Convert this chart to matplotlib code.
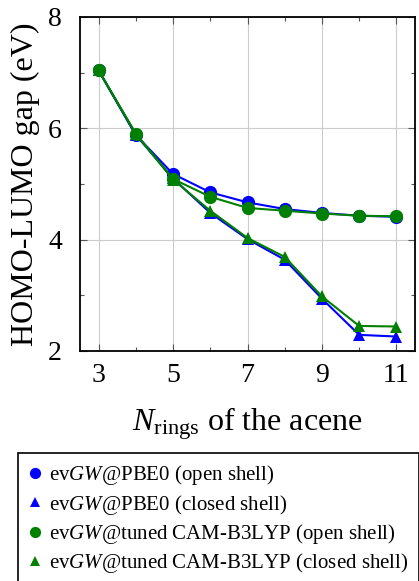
"""HOMO-LUMO gap of acenes vs number of rings, evGW on two starting points."""
import matplotlib

matplotlib.use("Agg")

import matplotlib.pyplot as plt
from matplotlib.lines import Line2D

plt.rcParams["font.family"] = "Liberation Serif"
plt.rcParams["mathtext.fontset"] = "custom"
plt.rcParams["mathtext.rm"] = "Liberation Serif"
plt.rcParams["mathtext.it"] = "Liberation Serif:italic"

n_rings = [3, 4, 5, 6, 7, 8, 9, 10, 11]

pbe0_open = [7.04, 5.88, 5.18, 4.85, 4.67, 4.55, 4.48, 4.43, 4.41]
pbe0_closed = [7.04, 5.88, 5.10, 4.48, 4.01, 3.64, 2.94, 2.29, 2.26]
cam_open = [7.04, 5.90, 5.09, 4.77, 4.57, 4.52, 4.47, 4.43, 4.42]
cam_closed = [7.04, 5.90, 5.08, 4.52, 4.03, 3.69, 2.98, 2.45, 2.44]

x_major = [3, 5, 7, 9, 11]
x_minor = [4, 6, 8, 10]
y_major = [2, 4, 6, 8]
y_minor = [3, 5, 7]

labels = [
    r"ev$GW$@PBE0 (open shell)",
    r"ev$GW$@PBE0 (closed shell)",
    r"ev$GW$@tuned CAM-B3LYP (open shell)",
    r"ev$GW$@tuned CAM-B3LYP (closed shell)",
]

BLUE = "#0000ff"
GREEN = "#008000"

fig = plt.figure(figsize=(4.19, 5.81), dpi=100)
ax = fig.add_axes([80 / 419, 1 - 351 / 581, 335 / 419, 334 / 581])

series = [
    (pbe0_open, BLUE, "o", 9.5),
    (pbe0_closed, BLUE, "^", 8.0),
    (cam_open, GREEN, "o", 9.5),
    (cam_closed, GREEN, "^", 8.0),
]
for values, color, marker, ms in series:
    ax.plot(n_rings, values, color=color, marker=marker, markersize=ms,
            linewidth=1.5, markeredgewidth=0)

ax.set_xlim(2.5, 11.5)
ax.set_ylim(2, 8)
ax.set_xticks(x_major)
ax.set_xticks(x_minor, minor=True)
ax.set_yticks(y_major)
ax.set_yticks(y_minor, minor=True)
ax.grid(True, which="major", color="#cccccc", linewidth=0.8)
ax.set_axisbelow(True)
ax.tick_params(which="both", direction="in", top=True, right=True,
               color="#555555", labelsize=20)
ax.tick_params(which="major", length=5, width=0.8)
ax.tick_params(which="minor", length=3, width=0.8)
ax.tick_params(axis="y", pad=13)
ax.tick_params(axis="x", pad=9)
for spine in ax.spines.values():
    spine.set_linewidth(1.3)

ax.set_xlabel(r"$N_{\mathrm{rings}}$ of the acene", fontsize=23, labelpad=12)
ax.set_ylabel("HOMO-LUMO gap (eV)", fontsize=23, labelpad=6)

handles = [
    Line2D([], [], color=c, marker=m, linestyle="none", markersize=ms * 0.85,
           markeredgewidth=0)
    for _, c, m, ms in series
]
leg = fig.legend(handles, labels, loc="upper left",
                 bbox_to_anchor=(18 / 419, 1 - 453 / 581),
                 fontsize=15, frameon=True, fancybox=False,
                 edgecolor="black", framealpha=1, handlelength=0.6,
                 handletextpad=0.4, labelspacing=0.25, borderpad=0.5,
                 borderaxespad=0)
leg.get_frame().set_linewidth(1.2)

fig.savefig("out.png", dpi=100)
